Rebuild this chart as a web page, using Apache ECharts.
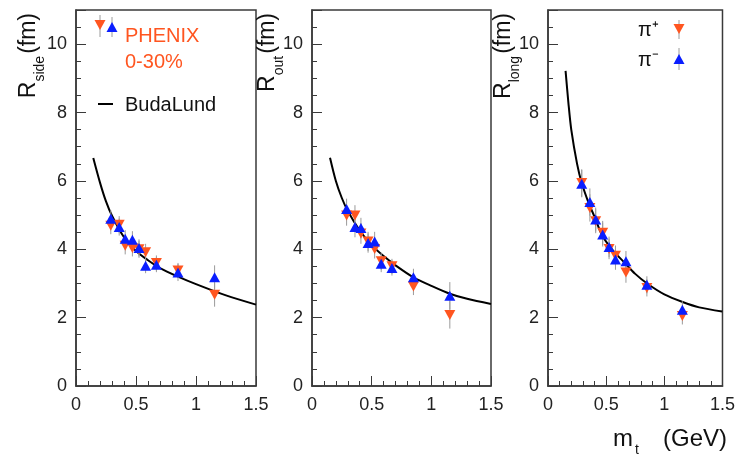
<!DOCTYPE html>
<html><head><meta charset="utf-8">
<script src="https://cdn.jsdelivr.net/npm/echarts@6/dist/echarts.min.js"></script>
<style>html,body{margin:0;padding:0;background:#fff}#c{width:738px;height:455px}</style>
</head><body><div id="c"></div>
<script>
// ---- data ----
const mt = [0.29, 0.36, 0.41, 0.47, 0.525, 0.58, 0.67, 0.85, 1.155];

const sidePlus   = [4.69, 4.72, 4.10, 4.04, 4.00, 3.91, 3.60, 3.38, 2.67];
const sideMinus  = [4.89, 4.65, 4.31, 4.28, 4.04, 3.52, 3.55, 3.32, 3.18];
const sideErrP   = [0.25, 0.25, 0.25, 0.25, 0.25, 0.25, 0.22, 0.22, 0.35];
const sideErrM   = [0.25, 0.25, 0.25, 0.25, 0.25, 0.22, 0.22, 0.25, 0.35];

const outPlus    = [4.99, 4.99, 4.46, 4.23, 4.01, 3.65, 3.50, 2.91, 2.08];
const outMinus   = [5.18, 4.65, 4.62, 4.18, 4.23, 3.58, 3.45, 3.18, 2.64];
const outErrP    = [0.30, 0.30, 0.30, 0.28, 0.28, 0.25, 0.22, 0.25, 0.40];
const outErrM    = [0.30, 0.30, 0.30, 0.28, 0.28, 0.25, 0.22, 0.25, 0.40];

const longPlus   = [5.94, 5.21, 4.82, 4.48, 4.01, 3.81, 3.32, 2.87, 2.05];
const longMinus  = [5.92, 5.38, 4.87, 4.43, 4.07, 3.70, 3.65, 2.96, 2.23];
const longErrP   = [0.40, 0.40, 0.35, 0.35, 0.30, 0.30, 0.30, 0.25, 0.25];
const longErrM   = [0.40, 0.40, 0.35, 0.35, 0.30, 0.30, 0.30, 0.25, 0.25];

// BudaLund fit curves
const sideCurveX = [0.144, 0.2, 0.25, 0.3, 0.4, 0.5, 0.6, 0.7, 0.85, 1.0, 1.25, 1.5];
const sideCurveY = [6.67, 5.95, 5.40, 4.98, 4.35, 3.95, 3.68, 3.45, 3.20, 2.98, 2.65, 2.38];
const outCurveX  = [0.151, 0.2, 0.25, 0.3, 0.4, 0.5, 0.6, 0.7, 0.85, 1.0, 1.155, 1.3, 1.5];
const outCurveY  = [6.68, 6.00, 5.50, 5.12, 4.55, 4.12, 3.80, 3.53, 3.18, 2.93, 2.70, 2.55, 2.40];
const longCurveX = [0.151, 0.175, 0.2, 0.25, 0.29, 0.35, 0.4, 0.464, 0.55, 0.66, 0.75, 0.855, 1.0, 1.163, 1.3, 1.498];
const longCurveY = [9.22, 8.30, 7.50, 6.50, 5.94, 5.35, 4.95, 4.42, 4.00, 3.60, 3.28, 2.99, 2.68, 2.45, 2.30, 2.18];

const xTicks = [0, 0.5, 1, 1.5];
const yTicks = [0, 2, 4, 6, 8, 10];
const subNames = ['side', 'out', 'long'];

// ---- styling ----
const FONT = 'Liberation Sans, Arial, Helvetica, sans-serif';
const RED = '#ff5520';
const BLUE = '#0a1eff';
const ERR = '#9a9a9a';
const FRAME = '#3a3a3a';

const panels = [
  {plus: sidePlus, minus: sideMinus, ep: sideErrP, em: sideErrM, cx: sideCurveX, cy: sideCurveY},
  {plus: outPlus, minus: outMinus, ep: outErrP, em: outErrM, cx: outCurveX, cy: outCurveY},
  {plus: longPlus, minus: longMinus, ep: longErrP, em: longErrM, cx: longCurveX, cy: longCurveY}
];
const gridPos = [
  {left: 76, top: 10, width: 180, height: 376},
  {left: 312, top: 10, width: 179, height: 376},
  {left: 548, top: 10, width: 179, height: 376}
];

const ctx = document.createElement('canvas').getContext('2d');
function tw(s, fs) { ctx.font = fs + 'px ' + FONT; return ctx.measureText(s).width; }

function txt(x, y, text, fs, fill, align) {
  return {type: 'text', x: x, y: y, style: {
    text: text, fontSize: fs, fontFamily: FONT, fill: fill || '#111',
    align: align || 'left', textAlign: align || 'left',
    verticalAlign: 'middle', textVerticalAlign: 'middle'}};
}

function errItem(params, api) {
  const x = api.value(0), y = api.value(1), e = api.value(2);
  const p1 = api.coord([x, y - e]), p2 = api.coord([x, y + e]);
  return {type: 'line', shape: {x1: p1[0], y1: p1[1], x2: p2[0], y2: p2[1]},
          style: {stroke: ERR, lineWidth: 1}};
}

const grid = [], xAxis = [], yAxis = [], series = [];
const labelStyle = {fontSize: 18, fontFamily: FONT, color: '#222'};
panels.forEach((p, i) => {
  grid.push(Object.assign({show: true, borderColor: FRAME, borderWidth: 1.5, backgroundColor: 'transparent'}, gridPos[i]));
  xAxis.push({gridIndex: i, type: 'value', position: 'bottom', min: xTicks[0], max: xTicks[xTicks.length - 1], interval: 0.5,
    axisLine: {show: true, lineStyle: {color: FRAME, width: 1.5}},
    axisTick: {show: true, inside: true, length: 10, lineStyle: {color: FRAME, width: 1}},
    axisLabel: Object.assign({margin: 10, showMinLabel: true, showMaxLabel: true}, labelStyle),
    splitLine: {show: false}});
  xAxis.push({gridIndex: i, type: 'value', position: 'bottom', min: 0, max: 1.5, interval: 0.1,
    axisLine: {show: false}, axisLabel: {show: false}, splitLine: {show: false},
    axisTick: {show: true, inside: true, length: 5, lineStyle: {color: FRAME, width: 1}}});
  yAxis.push({gridIndex: i, type: 'value', position: 'left', min: 0, max: 11, interval: 2,
    axisLine: {show: true, lineStyle: {color: FRAME, width: 1.5}},
    axisTick: {show: true, inside: true, length: 10, lineStyle: {color: FRAME, width: 1}},
    axisLabel: Object.assign({margin: 9, formatter: v => (yTicks.indexOf(v) >= 0 ? String(v) : '')}, labelStyle),
    splitLine: {show: false}});
  yAxis.push({gridIndex: i, type: 'value', position: 'left', min: 0, max: 11, interval: 0.5,
    axisLine: {show: false}, axisLabel: {show: false}, splitLine: {show: false},
    axisTick: {show: true, inside: true, length: 5, lineStyle: {color: FRAME, width: 1}}});

  const xi = 2 * i, yi = 2 * i;
  series.push({type: 'line', xAxisIndex: xi, yAxisIndex: yi, data: p.cx.map((x, k) => [x, p.cy[k]]),
    smooth: 0.3, showSymbol: false, symbol: 'none', silent: true,
    lineStyle: {color: '#000', width: 2}, z: 2});
  series.push({type: 'custom', xAxisIndex: xi, yAxisIndex: yi, renderItem: errItem, encode: {x: 0, y: 1},
    data: mt.map((x, k) => [x, p.plus[k], p.ep[k]]), z: 3, silent: true});
  series.push({type: 'custom', xAxisIndex: xi, yAxisIndex: yi, renderItem: errItem, encode: {x: 0, y: 1},
    data: mt.map((x, k) => [x, p.minus[k], p.em[k]]), z: 3, silent: true});
  series.push({type: 'scatter', xAxisIndex: xi, yAxisIndex: yi, data: mt.map((x, k) => [x, p.plus[k]]),
    symbol: 'path://M0,0L10,0L5,9Z', symbolSize: [11, 10], itemStyle: {color: RED, opacity: 1}, z: 4, silent: true});
  series.push({type: 'scatter', xAxisIndex: xi, yAxisIndex: yi, data: mt.map((x, k) => [x, p.minus[k]]),
    symbol: 'triangle', symbolSize: [11, 10], itemStyle: {color: BLUE, opacity: 1}, z: 5, silent: true});
});

// ---- axis titles ----
function yTitle(bx, sub) {
  const fsR = 23, fsS = 14;
  const wR = tw('R', fsR), wS = tw(sub, fsS), wF = tw('(fm)', fsR);
  const L = wR + wS + 2 + wF;
  return {type: 'group', x: bx, y: 13 + L, rotation: Math.PI / 2, children: [
    txt(0, -0.35 * fsR, 'R', fsR),
    txt(wR, 8 - 0.35 * fsS, sub, fsS),
    txt(wR + wS + 2, -0.35 * fsR, '(fm)', fsR)
  ]};
}
function triDown(cx, cy, color) {
  return {type: 'polygon', shape: {points: [[cx - 5.5, cy - 5], [cx + 5.5, cy - 5], [cx, cy + 5]]}, style: {fill: color}, z: 10};
}
function triUp(cx, cy, color) {
  return {type: 'polygon', shape: {points: [[cx - 5.5, cy + 5], [cx + 5.5, cy + 5], [cx, cy - 5]]}, style: {fill: color}, z: 10};
}
function vbar(x, y1, y2) {
  return {type: 'line', shape: {x1: x, y1: y1, x2: x, y2: y2}, style: {stroke: ERR, lineWidth: 1}, z: 9};
}

const graphic = [
  yTitle(37, subNames[0]), yTitle(276, subNames[1]), yTitle(512, subNames[2]),
  // mt (GeV)
  txt(613, 448 - 0.35 * 24, 'm', 24),
  txt(635, 455 - 0.35 * 14, 't', 14),
  txt(663, 448 - 0.35 * 24, '(GeV)', 24),
  // panel 1 legend
  vbar(100, 15, 37), triDown(100, 25, RED),
  vbar(112, 17, 37), triUp(112, 27, BLUE),
  txt(125, 36, 'PHENIX', 20, RED),
  txt(125, 62, '0-30%', 20, RED),
  {type: 'line', shape: {x1: 98, y1: 104, x2: 113, y2: 104}, style: {stroke: '#000', lineWidth: 2}},
  txt(125, 105, 'BudaLund', 20, '#111'),
  // panel 3 legend
  txt(638, 30, 'π⁺', 20, '#111'),
  vbar(679, 20, 39), triDown(679, 29, RED),
  txt(638, 60, 'π⁻', 20, '#111'),
  vbar(679, 48, 70), triUp(679, 59, BLUE)
];

const chart = echarts.init(document.getElementById('c'), null, {renderer: 'canvas'});
chart.setOption({animation: false, backgroundColor: '#fff', grid: grid, xAxis: xAxis, yAxis: yAxis, series: series, graphic: graphic});
</script>
</body></html>
